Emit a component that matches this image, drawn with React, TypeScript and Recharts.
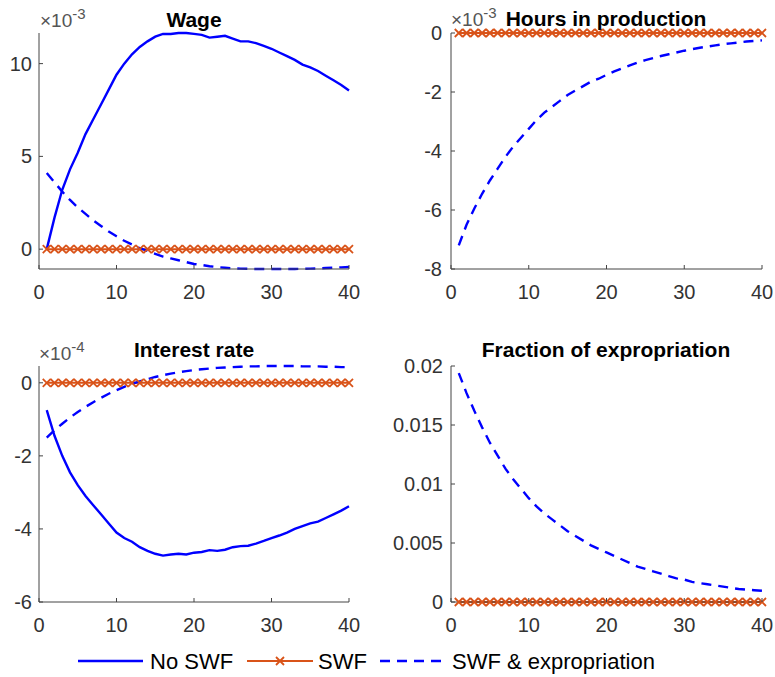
import React from 'react';
import { LineChart, Line, XAxis, YAxis } from 'recharts';

// horizon (quarters)
const periods = [
  1, 2, 3, 4, 5, 6, 7, 8, 9, 10, 11, 12, 13, 14, 15, 16, 17, 18, 19, 20,
  21, 22, 23, 24, 25, 26, 27, 28, 29, 30, 31, 32, 33, 34, 35, 36, 37, 38, 39, 40,
];

// SWF case stays at zero in every panel
const swfFlat = [
  0, 0, 0, 0, 0, 0, 0, 0, 0, 0, 0, 0, 0, 0, 0, 0, 0, 0, 0, 0,
  0, 0, 0, 0, 0, 0, 0, 0, 0, 0, 0, 0, 0, 0, 0, 0, 0, 0, 0, 0,
];

// Wage, in units of 1e-3
const wageNoSwf = [
  0, 1.7, 3.2, 4.3, 5.2, 6.2, 7.0, 7.8, 8.6, 9.4, 10.0, 10.5, 10.9, 11.2, 11.45, 11.6, 11.6, 11.65, 11.65, 11.6,
  11.55, 11.4, 11.45, 11.5, 11.35, 11.2, 11.2, 11.1, 10.95, 10.8, 10.6, 10.4, 10.2, 9.95, 9.8, 9.6, 9.35, 9.1, 8.85, 8.55,
];
const wageExpro = [
  4.1, 3.6, 3.1, 2.65, 2.25, 1.9, 1.55, 1.25, 0.95, 0.7, 0.45, 0.25, 0.05, -0.1, -0.25, -0.4, -0.5, -0.6, -0.7, -0.8,
  -0.85, -0.92, -0.97, -1.0, -1.03, -1.05, -1.06, -1.07, -1.07, -1.07, -1.07, -1.07, -1.07, -1.06, -1.05, -1.04, -1.02, -1.0, -0.98, -0.96,
];

// Hours in production, in units of 1e-3
const hoursExpro = [
  -7.2, -6.5, -5.95, -5.45, -5.0, -4.6, -4.2, -3.85, -3.55, -3.25, -2.95, -2.7, -2.5, -2.3, -2.1, -1.95, -1.8, -1.65, -1.55, -1.42,
  -1.3, -1.2, -1.1, -1.0, -0.92, -0.85, -0.78, -0.72, -0.66, -0.6, -0.55, -0.5, -0.46, -0.42, -0.38, -0.35, -0.32, -0.29, -0.27, -0.25,
];

// Interest rate, in units of 1e-4
const rateNoSwf = [
  -0.75, -1.45, -2.0, -2.45, -2.8, -3.1, -3.35, -3.6, -3.85, -4.1, -4.25, -4.35, -4.5, -4.6, -4.68, -4.73, -4.7, -4.68, -4.7, -4.65,
  -4.63, -4.58, -4.6, -4.57, -4.5, -4.47, -4.46, -4.4, -4.33, -4.25, -4.18, -4.1, -4.0, -3.92, -3.85, -3.8, -3.7, -3.6, -3.5, -3.38,
];
const rateExpro = [
  -1.5, -1.3, -1.12, -0.95, -0.8, -0.66, -0.53, -0.41, -0.3, -0.2, -0.11, -0.03, 0.04, 0.1, 0.16, 0.21, 0.25, 0.29, 0.32, 0.35,
  0.37, 0.39, 0.41, 0.42, 0.43, 0.44, 0.45, 0.45, 0.46, 0.46, 0.46, 0.46, 0.46, 0.45, 0.45, 0.45, 0.44, 0.44, 0.43, 0.43,
];

// Fraction of expropriation
const fractionExpro = [
  0.0194, 0.0177, 0.0162, 0.0148, 0.0135, 0.0124, 0.0113, 0.0104, 0.0096, 0.0088, 0.0081, 0.0075, 0.007, 0.0065, 0.006, 0.0056, 0.0052, 0.0048, 0.0045, 0.0042,
  0.0039, 0.0036, 0.0033, 0.003, 0.0028, 0.0026, 0.0024, 0.0022, 0.002, 0.0019, 0.0017, 0.0016, 0.0015, 0.0014, 0.0013, 0.0012, 0.0011, 0.00105, 0.001, 0.00095,
];

const xTicks = [0, 10, 20, 30, 40];

const BLUE = '#0000ff';
const ORANGE = '#d95319';
const AXIS = '#444444';
const FONT = '"Liberation Sans", Arial, Helvetica, sans-serif';

const XMark = (props: any) => {
  const { cx, cy } = props;
  if (cx == null || cy == null) return null;
  const s = 4;
  return (
    <path
      d={`M${cx - s},${cy - s}L${cx + s},${cy + s}M${cx - s},${cy + s}L${cx + s},${cy - s}`}
      stroke={ORANGE}
      strokeWidth={1.8}
      fill='none'
    />
  );
};

// matlab style ticks: little marks pointing into the box
const bottomTick = (gap: number) => (p: any) => (
  <g>
    <line x1={p.x} x2={p.x} y1={p.y - gap} y2={p.y - gap - 4} stroke={AXIS} />
    <text x={p.x} y={p.y} dy='0.71em' textAnchor='middle' fill='#333' fontSize={20} fontFamily={FONT}>
      {p.payload.value}
    </text>
  </g>
);
const topTick = (p: any) => <line x1={p.x} x2={p.x} y1={p.y} y2={p.y + 4} stroke={AXIS} />;
const leftTick = (gap: number) => (p: any) => (
  <g>
    <line x1={p.x + gap} x2={p.x + gap + 4} y1={p.y} y2={p.y} stroke={AXIS} />
    <text x={p.x} y={p.y} dy='0.355em' textAnchor='end' fill='#333' fontSize={20} fontFamily={FONT}>
      {p.payload.value}
    </text>
  </g>
);
const rightTick = (p: any) => <line x1={p.x} x2={p.x - 4} y1={p.y} y2={p.y} stroke={AXIS} />;

interface PanelProps {
  left: number;
  top: number;
  width: number;
  height: number;
  box: { l: number; r: number; t: number; b: number };
  yDomain: [number, number];
  yTicks: number[];
  noSwf?: number[];
  expro: number[];
  gap: number;
}

const Panel = ({ left, top, width, height, box, yDomain, yTicks, noSwf, expro, gap }: PanelProps) => {
  const data = periods.map((t, i) => ({
    t,
    noSwf: noSwf ? noSwf[i] : null,
    swf: swfFlat[i],
    expro: expro[i],
  }));
  const xH = 40;
  return (
    <div style={{ position: 'absolute', left, top }}>
      <LineChart
        width={width}
        height={height}
        data={data}
        margin={{ top: box.t - top, left: 0, right: left + width - box.r, bottom: top + height - box.b - xH }}
      >
        <XAxis
          dataKey='t'
          type='number'
          domain={[0, 40]}
          ticks={xTicks}
          interval={0}
          height={xH}
          tickSize={0}
          tickMargin={16}
          tick={bottomTick(16)}
          axisLine={{ stroke: AXIS }}
        />
        <XAxis
          xAxisId='top'
          orientation='top'
          dataKey='t'
          type='number'
          domain={[0, 40]}
          ticks={xTicks}
          interval={0}
          height={0}
          tickSize={0}
          tick={topTick}
          axisLine={{ stroke: AXIS }}
        />
        <YAxis
          type='number'
          domain={yDomain}
          ticks={yTicks}
          interval={0}
          width={box.l - left}
          tickSize={0}
          tickMargin={gap}
          tick={leftTick(gap)}
          axisLine={{ stroke: AXIS }}
        />
        <YAxis
          yAxisId='r'
          orientation='right'
          type='number'
          domain={yDomain}
          ticks={yTicks}
          interval={0}
          width={0}
          tickSize={0}
          tick={rightTick}
          axisLine={{ stroke: AXIS }}
        />
        {noSwf && (
          <Line
            dataKey='noSwf'
            stroke={BLUE}
            strokeWidth={2.4}
            dot={false}
            isAnimationActive={false}
          />
        )}
        <Line
          dataKey='swf'
          stroke={ORANGE}
          strokeWidth={2}
          dot={<XMark />}
          isAnimationActive={false}
        />
        <Line
          dataKey='expro'
          stroke={BLUE}
          strokeWidth={2.4}
          strokeDasharray='10 7'
          dot={false}
          isAnimationActive={false}
        />
      </LineChart>
    </div>
  );
};

const Exponent = ({ x, y, exp }: { x: number; y: number; exp: string }) => (
  <text x={x} y={y} fill='#555' fontSize={19} fontFamily={FONT}>
    ×10
    <tspan dy={-8} fontSize={15}>
      {exp}
    </tspan>
  </text>
);

const Title = ({ x, y, text }: { x: number; y: number; text: string }) => (
  <text x={x} y={y} textAnchor='middle' fontSize={21} fontWeight='bold' fill='#000' fontFamily={FONT}>
    {text}
  </text>
);

const App = () => {
  const top = { l: 39, r: 349, t: 33, b: 269 };
  const topR = { l: 451, r: 762, t: 33, b: 269 };
  const bot = { l: 39, r: 349, t: 366, b: 602 };
  const botR = { l: 451, r: 762, t: 366, b: 602 };
  return (
    <div style={{ position: 'absolute', left: 0, top: 0, width: 775, height: 677, background: '#fff' }}>
      <Panel left={0} top={0} width={380} height={310} box={top} yDomain={[-1.07, 11.6]} yTicks={[0, 5, 10]} noSwf={wageNoSwf} expro={wageExpro} gap={7} />
      <Panel left={380} top={0} width={395} height={310} box={topR} yDomain={[-8, 0]} yTicks={[-8, -6, -4, -2, 0]} expro={hoursExpro} gap={9} />
      <Panel left={0} top={320} width={380} height={330} box={bot} yDomain={[-6, 0.46]} yTicks={[-6, -4, -2, 0]} noSwf={rateNoSwf} expro={rateExpro} gap={7} />
      <Panel left={380} top={320} width={395} height={330} box={botR} yDomain={[0, 0.02]} yTicks={[0, 0.005, 0.01, 0.015, 0.02]} expro={fractionExpro} gap={8} />

      <svg width={775} height={677} style={{ position: 'absolute', left: 0, top: 0, pointerEvents: 'none' }}>
        <Exponent x={40} y={27} exp='-3' />
        <Title x={194} y={27} text='Wage' />
        <Exponent x={451} y={26} exp='-3' />
        <Title x={606} y={26} text='Hours in production' />
        <Exponent x={39} y={360} exp='-4' />
        <Title x={194} y={357} text='Interest rate' />
        <Title x={606} y={357} text='Fraction of expropriation' />

        {/* legend */}
        <line x1={78} x2={143} y1={661} y2={661} stroke={BLUE} strokeWidth={2.4} />
        <text x={150} y={669} fontSize={22} fill='#000' fontFamily={FONT}>No SWF</text>
        <line x1={247} x2={313} y1={661} y2={661} stroke={ORANGE} strokeWidth={2} />
        <XMark cx={280} cy={661} />
        <text x={318} y={669} fontSize={22} fill='#000' fontFamily={FONT}>SWF</text>
        <line x1={380} x2={448} y1={661} y2={661} stroke={BLUE} strokeWidth={2.4} strokeDasharray='10 7' />
        <text x={452} y={669} fontSize={22} fill='#000' fontFamily={FONT}>SWF &amp; expropriation</text>
      </svg>
    </div>
  );
};

export default App;
